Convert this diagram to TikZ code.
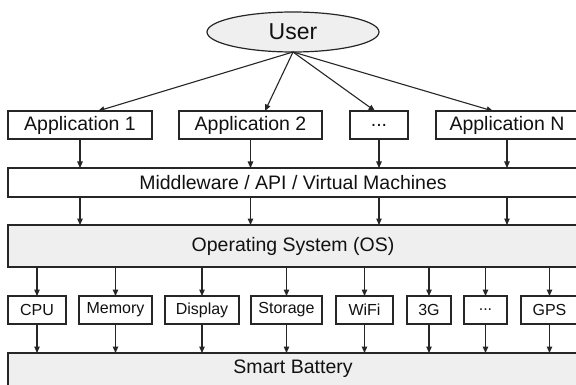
\documentclass[tikz,border=0pt]{standalone}
\usepackage{fontspec}
\setmainfont{Liberation Sans}
\usetikzlibrary{shapes.geometric,arrows.meta}
\definecolor{edge}{HTML}{262626}
\definecolor{lightfill}{HTML}{EFEFEF}
\definecolor{txt}{HTML}{111111}
\tikzset{
  box/.style={draw=edge, line width=1.2pt, fill=white, rectangle, inner sep=0pt, outer sep=0pt, text=txt},
  graybox/.style={box, fill=lightfill},
  bigtext/.style={font=\fontsize{19.5}{23}\selectfont},
  smalltext/.style={font=\fontsize{16}{19}\selectfont},
  arr/.style={draw=edge, line width=1.1pt, -{Triangle[length=6.5pt,width=5.5pt]}},
}
\begin{document}
\begin{tikzpicture}[x=1pt,y=-1pt]
\useasboundingbox (0,0) rectangle (576,385);
\clip (0,0) rectangle (576,385);
\fill[white] (0,0) rectangle (576,385);
% user
\node[ellipse, draw=edge, line width=1.2pt, fill=lightfill, minimum width=172pt, minimum height=40pt, inner sep=0pt, outer sep=0pt, text=txt, font=\fontsize{23}{27}\selectfont] (u) at (293,32) {User};
% applications
\node[box, bigtext, minimum width=144pt, minimum height=28pt] (a1) at (80,125) {Application 1};
\node[box, bigtext, minimum width=143pt, minimum height=28pt] (a2) at (250.5,125) {Application 2};
\node[box, bigtext, minimum width=58pt, minimum height=28pt] (a3) at (379,125) {...};
\node[box, bigtext, minimum width=142pt, minimum height=28pt] (a4) at (507,125) {Application N};
% middleware
\node[box, bigtext, minimum width=570pt, minimum height=29pt] (mw) at (293,182.5) {Middleware / API / Virtual Machines};
% OS
\node[graybox, bigtext, minimum width=570pt, minimum height=42pt] (os) at (293,246) {Operating System (OS)};
% hardware
\node[box, smalltext, minimum width=58pt, minimum height=28pt] (h1) at (37,310) {CPU};
\node[box, smalltext, minimum width=73pt, minimum height=28pt] (h2) at (115.5,310) {Memory};
\node[box, smalltext, minimum width=74pt, minimum height=28pt] (h3) at (202,310) {Display};
\node[box, smalltext, minimum width=71pt, minimum height=28pt] (h4) at (286.5,310) {Storage};
\node[box, smalltext, minimum width=57pt, minimum height=28pt] (h5) at (364.5,310) {WiFi};
\node[box, smalltext, minimum width=44pt, minimum height=28pt] (h6) at (429,310) {3G};
\node[box, smalltext, minimum width=43pt, minimum height=28pt] (h7) at (485.5,310) {...};
\node[box, smalltext, minimum width=57pt, minimum height=28pt] (h8) at (549.5,310) {GPS};
% battery
\node[graybox, bigtext, minimum width=570pt, minimum height=40pt] (sb) at (293,373) {};
\node[text=txt, bigtext, inner sep=0pt] (sbl) at (293,369) {Smart Battery};
% user arrows
\draw[arr] (u.south) -- (a1.north -| 98,0);
\draw[arr] (u.south) -- (a2.north -| 265,0);
\draw[arr] (u.south) -- (a3.north -| 375,0);
\draw[arr] (u.south) -- (a4.north -| 493,0);
% apps to middleware to OS
\foreach \n in {a1,a2,a3,a4}{
  \draw[arr] (\n.south) -- (\n.south |- mw.north);
  \draw[arr] (\n.south |- mw.south) -- (\n.south |- os.north);
}
% OS to hardware to battery
\foreach \n in {h1,h2,h3,h4,h5,h6,h7,h8}{
  \draw[arr] (\n.north |- os.south) -- (\n.north);
  \draw[arr] (\n.south) -- (\n.south |- sb.north);
}
\end{tikzpicture}
\end{document}
